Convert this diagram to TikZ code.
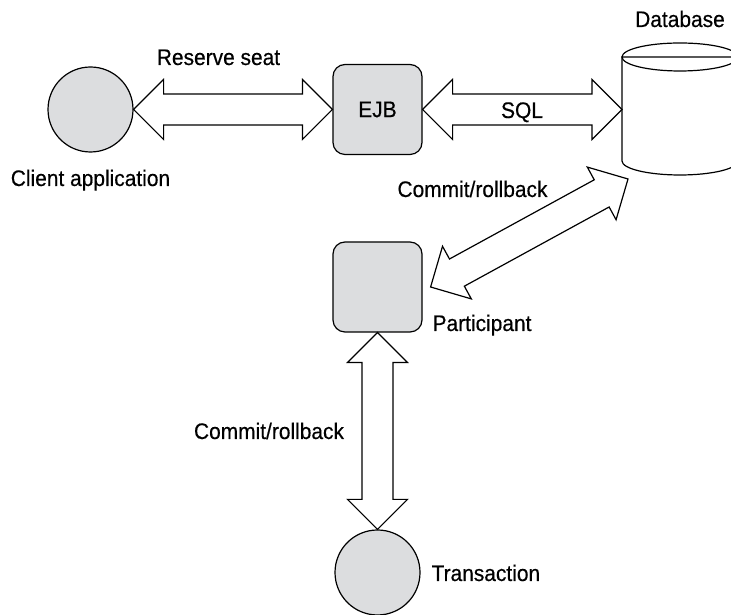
\documentclass[tikz,border=0pt]{standalone}
\usepackage{fontspec}
\setmainfont[FakeStretch=0.93,FakeBold=0.4]{Liberation Sans}
\usetikzlibrary{calc}
\definecolor{nodefill}{RGB}{220,221,223}
\newcommand\dblarrow[2]{%
 \draw[blockarrow] (#1)
 -- ($(#1)!30pt!(#2)!30pt!90:(#2)$)
 -- ($(#1)!30pt!(#2)!15.5pt!90:(#2)$)
 -- ($(#2)!30pt!(#1)!15.5pt!-90:(#1)$)
 -- ($(#2)!30pt!(#1)!30pt!-90:(#1)$)
 -- (#2)
 -- ($(#2)!30pt!(#1)!30pt!90:(#1)$)
 -- ($(#2)!30pt!(#1)!15.5pt!90:(#1)$)
 -- ($(#1)!30pt!(#2)!15.5pt!-90:(#2)$)
 -- ($(#1)!30pt!(#2)!30pt!-90:(#2)$)
 -- cycle;}
\begin{document}
\begin{tikzpicture}[x=1pt,y=1pt,
  line width=1.2pt,
  every node/.style={font=\fontsize{22.5}{26}\selectfont, text=black},
  roundnode/.style={circle, draw, fill=nodefill, minimum size=85pt, inner sep=0pt},
  boxnode/.style={rectangle, rounded corners=12pt, draw, fill=nodefill, minimum width=89pt, minimum height=90pt, inner sep=0pt},
  lbl/.style={inner sep=0pt, anchor=base},
  lblw/.style={inner sep=0pt, anchor=base west},
  blockarrow/.style={draw, fill=white, line join=miter}]
\useasboundingbox (0,0) rectangle (731,615);
\clip (0,0) rectangle (731,615);
% nodes
\node[roundnode] (client) at (90.5,505.5) {};
\node[boxnode] (ejb) at (377.5,505.5) {EJB};
\node[boxnode] (part) at (377.5,328) {};
\node[roundnode] (trans) at (377.5,42.5) {};
% database cylinder
\draw[fill=white] (622,558) -- (622,454) arc[start angle=180,end angle=360,x radius=58pt,y radius=14pt] -- (738,558) -- cycle;
\draw (680,558) ellipse[x radius=58pt, y radius=14pt];
\coordinate (db) at (622,505.5);
\coordinate (dbtip) at (628,436);
\coordinate (parttip) at ($(part.east)+(8,0)$);
% arrows
\dblarrow{client.east}{ejb.west}
\dblarrow{ejb.east}{db}
\dblarrow{parttip}{dbtip}
\dblarrow{part.south}{trans.north}
% labels
\node[lbl] (lres) at (218.5,550) {Reserve seat};
\node[lbl] (lclient) at (90.5,429) {Client application};
\node[lbl] (lsql) at (522,497) {SQL};
\node[lbl] (ldb) at (680,588) {Database};
\node[lbl] (lcr1) at (472.5,418) {Commit/rollback};
\node[lbl] (lcr2) at (269,176) {Commit/rollback};
\node[lblw] (lpart) at (432,284) {Participant};
\node[lblw] (ltrans) at (431,34) {Transaction};
\end{tikzpicture}
\end{document}
